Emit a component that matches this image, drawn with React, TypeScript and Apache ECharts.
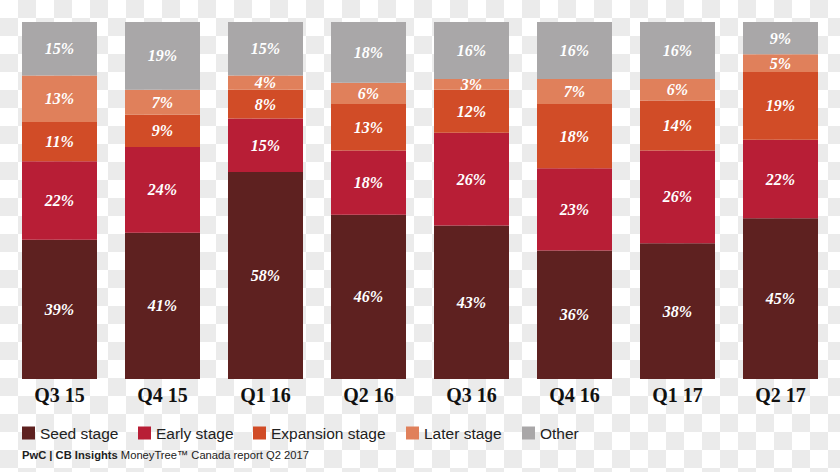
import React, { useEffect, useRef } from "react";
import * as echarts from "echarts";

const categories = ["Q3 15", "Q4 15", "Q1 16", "Q2 16", "Q3 16", "Q4 16", "Q1 17", "Q2 17"];
const seedStage = [39, 41, 58, 46, 43, 36, 38, 45];
const earlyStage = [22, 24, 15, 18, 26, 23, 26, 22];
const expansionStage = [11, 9, 8, 13, 12, 18, 14, 19];
const laterStage = [13, 7, 4, 6, 3, 7, 6, 5];
const other = [15, 19, 15, 18, 16, 16, 16, 9];

const seriesNames = ["Seed stage", "Early stage", "Expansion stage", "Later stage", "Other"];
const seriesData = [seedStage, earlyStage, expansionStage, laterStage, other];
const colors = ["#5e2120", "#b81e36", "#d14c27", "#e0805b", "#a9a7a8"];
const legendLefts = [17, 133, 248, 401, 517];

export default function App() {
  const ref = useRef<HTMLDivElement>(null);

  useEffect(() => {
    document.body.style.margin = "0";
    if (!ref.current) return;
    const chart = echarts.init(ref.current, null, { renderer: "svg" });
    const option: any = {
      animation: false,
      backgroundColor: "transparent",
      grid: { left: 8, right: 8, top: 22, bottom: 93 },
      xAxis: {
        type: "category",
        data: categories,
        axisLine: { show: false },
        axisTick: { show: false },
        axisLabel: {
          margin: 6,
          color: "#111",
          fontFamily: "Liberation Serif",
          fontWeight: "bold",
          fontSize: 20,
        },
      },
      yAxis: { type: "value", min: 0, max: 100, show: false, splitLine: { show: false } },
      legend: seriesNames.map((n, i) => ({
        data: [n],
        left: legendLefts[i],
        top: 420,
        icon: "rect",
        itemWidth: 13,
        itemHeight: 13,
        itemGap: 0,
        selectedMode: false,
        textStyle: { fontSize: 15.5, color: "#222", fontFamily: "Liberation Sans" },
      })),
      series: seriesNames.map((n, i) => ({
        name: n,
        type: "bar",
        stack: "total",
        barWidth: 75,
        data: seriesData[i],
        itemStyle: { color: colors[i] },
        label: {
          show: true,
          position: "inside",
          formatter: "{c}%",
          color: "#fff",
          fontFamily: "Liberation Serif",
          fontStyle: "italic",
          fontWeight: "bold",
          fontSize: 16,
        },
      })),
      graphic: [
        {
          type: "text",
          left: 22,
          top: 449,
          style: {
            text: "{b|PwC | CB Insights} MoneyTree™ Canada report Q2 2017",
            fontSize: 11.2,
            fontFamily: "Liberation Sans",
            fill: "#222",
            rich: { b: { fontWeight: "bold", fontSize: 11.2, fontFamily: "Liberation Sans", fill: "#222" } },
          },
        },
      ],
    };
    chart.setOption(option);
    return () => chart.dispose();
  }, []);

  return (
    <div
      ref={ref}
      style={{
        width: 840,
        height: 472,
        backgroundColor: "#fff",
        backgroundImage:
          "conic-gradient(#ebebeb 25%, #ffffff 0 50%, #ebebeb 0 75%, #ffffff 0)",
        backgroundSize: "36px 36px",
      }}
    />
  );
}
